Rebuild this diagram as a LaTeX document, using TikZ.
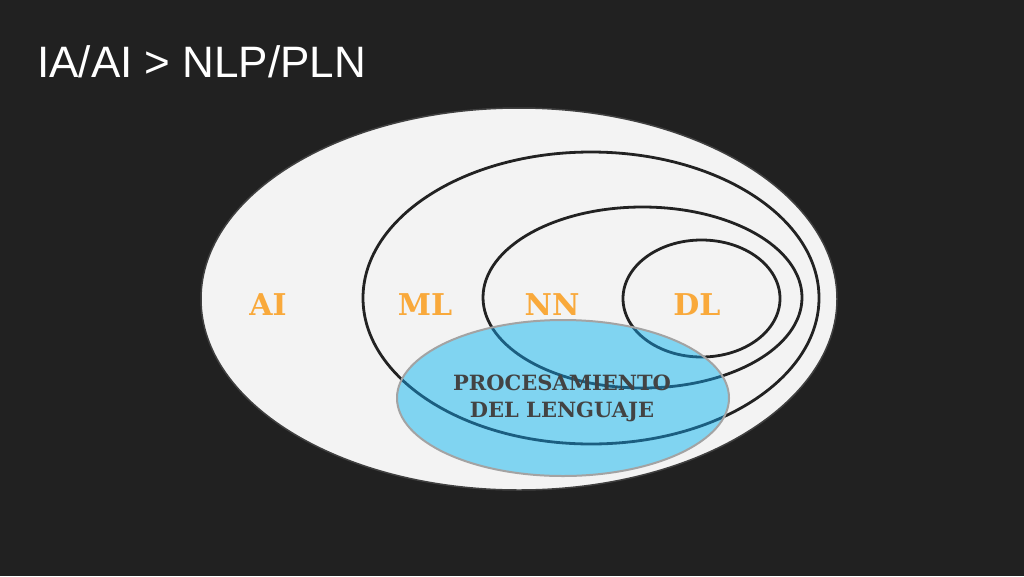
\documentclass[tikz,border=0pt]{standalone}
\usepackage{fontspec}
\setmainfont{DejaVu Serif}
\newfontfamily\arialfont{Liberation Sans}
\newfontfamily\slabfont{DejaVu Serif}[BoldFont={DejaVu Serif Bold}]
\definecolor{bgdark}{HTML}{212121}
\definecolor{ailight}{HTML}{F3F3F3}
\definecolor{ringline}{HTML}{222222}
\definecolor{nlpblue}{HTML}{80D4F1}
\definecolor{nlpline}{HTML}{1B5E80}
\definecolor{nlpborder}{HTML}{A3A3A3}
\definecolor{labelorange}{HTML}{F9A93B}
\definecolor{textgray}{HTML}{434343}
\tikzset{
  ring/.style={draw=ringline, line width=2.8pt},
  ringin/.style={draw=nlpline, line width=2.8pt},
  setlabel/.style={text=labelorange, font=\slabfont\bfseries\fontsize{30}{32}\selectfont, inner sep=0pt},
  nlplabel/.style={text=textgray, font=\slabfont\bfseries\fontsize{21}{27}\selectfont, align=center, inner sep=0pt},
  titlestyle/.style={text=white, font=\arialfont\fontsize{44}{48}\selectfont, anchor=base west, inner sep=0pt}
}
\begin{document}
\begin{tikzpicture}[x=1pt,y=-1pt]
\useasboundingbox (0,0) rectangle (1024,576);
\fill[bgdark] (0,0) rectangle (1024,576);
% title
\node[titlestyle] (title) at (37,77) {IA/AI > NLP/PLN};
% AI
\draw[fill=ailight, draw=black!75, line width=1.5pt] (519,299) ellipse [x radius=318, y radius=191];
% ML, NN, DL
\draw[ring] (591,298) ellipse [x radius=228, y radius=146];
\draw[ring] (642.5,297.5) ellipse [x radius=159.5, y radius=90.5];
\draw[ring] (701.5,298.5) ellipse [x radius=78.5, y radius=58.5];
% NLP
\fill[nlpblue] (563,398) ellipse [x radius=166, y radius=78];
\begin{scope}
  \clip (563,398) ellipse [x radius=166, y radius=78];
  \draw[ringin] (591,298) ellipse [x radius=228, y radius=146];
  \draw[ringin] (642.5,297.5) ellipse [x radius=159.5, y radius=90.5];
  \draw[ringin] (701.5,298.5) ellipse [x radius=78.5, y radius=58.5];
\end{scope}
\draw[nlpborder, line width=2pt] (563,398) ellipse [x radius=166, y radius=78];
% labels
\node[setlabel] (ai) at (268,305) {AI};
\node[setlabel] (ml) at (425,305) {ML};
\node[setlabel] (nn) at (552,305) {NN};
\node[setlabel] (dl) at (697,305) {DL};
\node[nlplabel] (nlp) at (562,398) {PROCESAMIENTO\\DEL LENGUAJE};
\end{tikzpicture}
\end{document}
